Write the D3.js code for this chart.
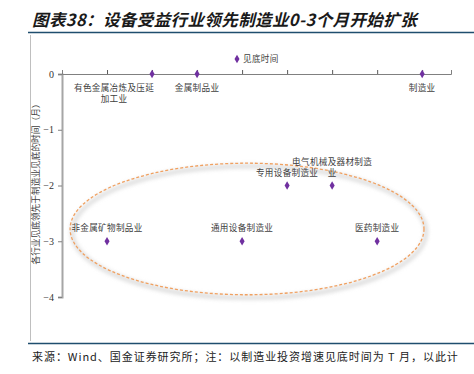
<!DOCTYPE html>
<html><head><meta charset="utf-8">
<script src="https://cdn.jsdelivr.net/npm/d3@7/dist/d3.min.js"></script>
<style>body{margin:0;background:#fff;}svg{display:block;}</style>
</head><body>
<script>
const categories = ["非金属矿物制品业","有色金属冶炼及压延加工业","金属制品业","通用设备制造业","专用设备制造业","电气机械及器材制造业","医药制造业","制造业"];
const xPos = [1,2,3,4,5,6,7,8];
const values = [-3,0,0,-3,-2,-2,-3,0];
const labelLines = [["非金属矿物制品业"],["有色金属冶炼及压延","加工业"],["金属制品业"],["通用设备制造业"],["专用设备制造业"],["电气机械及器材制造","业"],["医药制造业"],["制造业"]];
const yTicks = [0,-1,-2,-3,-4];
const seriesName = "见底时间";
const title = "图表38：设备受益行业领先制造业0-3个月开始扩张";
const yTitle = "各行业见底领先于制造业见底的时间（月）";
const footer = "来源：Wind、国金证券研究所；注：以制造业投资增速见底时间为 T 月，以此计";

const W=474,H=374;
const svg=d3.select("body").append("svg").attr("width",W).attr("height",H);
const font="'Noto Sans CJK SC','Noto Sans',sans-serif";

// title
svg.append("text").attr("x",32).attr("y",26).text(title)
  .attr("font-family",font).attr("font-size",16.5).attr("font-weight","bold").attr("font-style","italic")
  .attr("letter-spacing",0.4).attr("fill","#1a1a1a");
svg.append("line").attr("x1",28).attr("x2",W).attr("y1",32.5).attr("y2",32.5).attr("stroke","#1f4e6e").attr("stroke-width",1.5);
svg.append("line").attr("x1",30.5).attr("x2",30.5).attr("y1",35).attr("y2",341).attr("stroke","#bfbfbf").attr("stroke-width",1);
svg.append("line").attr("x1",28).attr("x2",W).attr("y1",343.5).attr("y2",343.5).attr("stroke","#1f4e6e").attr("stroke-width",1.5);
svg.append("text").attr("x",32).attr("y",361).text(footer)
  .attr("font-family",font).attr("font-size",11).attr("letter-spacing",0.95).attr("fill","#222");

const x=d3.scaleLinear().domain([0,8.64]).range([62,451]);
const y=d3.scaleLinear().domain([0,-4]).range([74,297]);

// ellipse with shadow
const defs=svg.append("defs");
defs.append("filter").attr("id","blur").attr("x","-20%").attr("y","-20%").attr("width","140%").attr("height","140%")
  .append("feGaussianBlur").attr("stdDeviation",2);
const ecx=x(4.11), ecy=y(-2.78), erx=x(3.93)-x(0), ery=y(-1.18)-y(0);
svg.append("ellipse").attr("cx",ecx+2).attr("cy",ecy+3).attr("rx",erx).attr("ry",ery)
  .attr("fill","none").attr("stroke","#d0d0d0").attr("stroke-width",3).attr("filter","url(#blur)");
svg.append("ellipse").attr("cx",ecx).attr("cy",ecy).attr("rx",erx).attr("ry",ery)
  .attr("fill","none").attr("stroke","#f0a060").attr("stroke-width",1.3).attr("stroke-dasharray","3,2");

// y axis
const ya=svg.append("g").attr("transform","translate(62,0)")
  .call(d3.axisLeft(y).tickValues(yTicks).tickSize(4).tickFormat(d3.format("d")));
ya.select(".domain").attr("stroke","#a6a6a6").attr("stroke-width",2);
ya.selectAll(".tick line").attr("stroke","#808080");
ya.selectAll(".tick text").attr("font-family","'Liberation Serif',serif").attr("font-size",10).attr("fill","#333").attr("x",-8);

// x axis
const xa=svg.append("g").attr("transform","translate(0,74)")
  .call(d3.axisTop(x).tickValues(xPos).tickSize(4).tickFormat(""));
xa.select(".domain").attr("stroke","#808080").attr("stroke-width",1);
xa.selectAll(".tick line").attr("stroke","#595959");

// y title
svg.append("text").attr("transform",`translate(39,182) rotate(-90)`).attr("text-anchor","middle")
  .text(yTitle).attr("font-family",font).attr("font-size",8.7).attr("fill","#404040");

// points
const sym=d3.symbol().type(d3.symbolDiamond).size(22);
svg.selectAll("path.pt").data(values).enter().append("path").attr("class","pt")
  .attr("d",sym).attr("transform",(d,i)=>`translate(${x(xPos[i])},${y(d)})`).attr("fill","#7030a0");

// labels
const lg=svg.append("g").attr("font-family",font).attr("font-size",8.6).attr("letter-spacing",0.3).attr("fill","#404040").attr("text-anchor","middle");
values.forEach((v,i)=>{
  const lines=labelLines[i];
  let cx=x(xPos[i]), baseY;
  if(v===0){ baseY=y(v)+17; if(lines.length>1) cx-=38; }
  else { baseY=y(v)-10-(lines.length-1)*11; }
  lines.forEach((t,k)=>{
    lg.append("text").attr("x",cx).attr("y",baseY+k*11).text(t);
  });
});

// legend
svg.append("path").attr("d",sym).attr("transform",`translate(${237},59)`).attr("fill","#7030a0");
svg.append("text").attr("x",243).attr("y",62).text(seriesName).attr("font-family",font).attr("font-size",8.6).attr("letter-spacing",0.3).attr("fill","#404040");
</script>
</body></html>
